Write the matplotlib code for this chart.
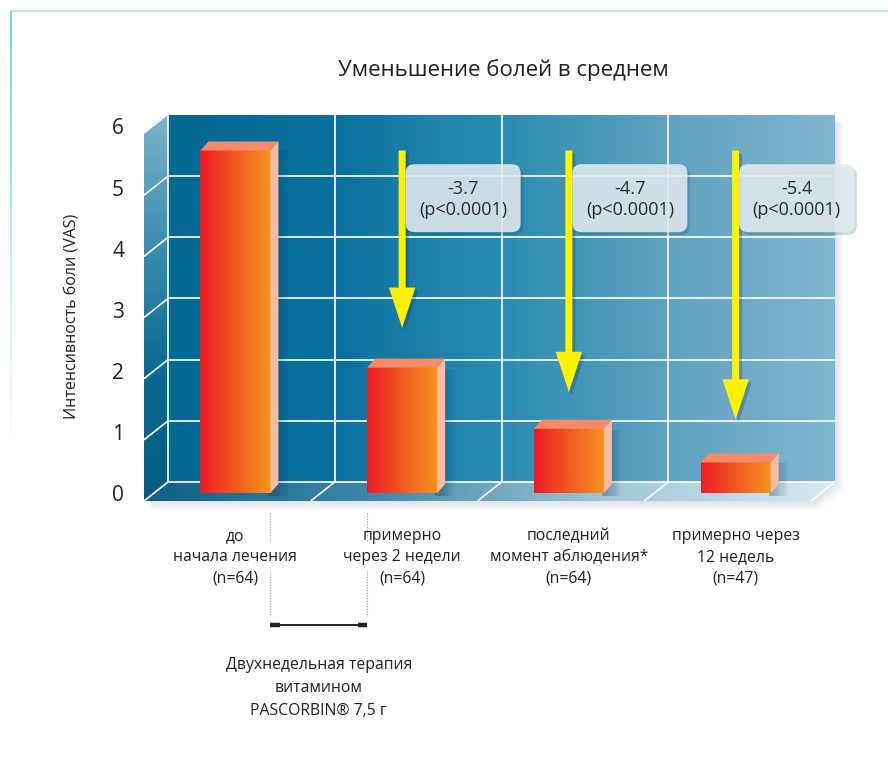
import matplotlib
matplotlib.use('Agg')
import matplotlib.pyplot as plt
import matplotlib.transforms as mtransforms
import matplotlib.patheffects as pe
from matplotlib.patches import Polygon, FancyBboxPatch, Rectangle
from matplotlib.colors import LinearSegmentedColormap
import numpy as np

plt.rcParams['font.family'] = ['Open Sans', 'DejaVu Sans']
plt.rcParams['font.weight'] = 500

# data
title = 'Уменьшение болей в среднем'
ylabel = 'Интенсивность боли (VAS)'
categories = ['до\nначала лечения\n(n=64)',
              'примерно\nчерез 2 недели\n(n=64)',
              'последний\nмомент аблюдения*\n(n=64)',
              'примерно через\n12 недель\n(n=47)']
pain = [5.6, 2.05, 1.05, 0.5]
changes = ['-3.7', '-4.7', '-5.4']
p_values = ['(p<0.0001)', '(p<0.0001)', '(p<0.0001)']
arrow_tips = [2.7, 1.65, 1.2]
yticks = [0, 1, 2, 3, 4, 5, 6]
therapy_note = 'Двухнедельная терапия\nвитамином\nPASCORBIN® 7,5 г'

W, H = 888, 762
fig = plt.figure(figsize=(W / 100, H / 100), dpi=100)
bg = fig.add_axes([0, 0, 1, 1])
bg.set_xlim(0, W)
bg.set_ylim(H, 0)
bg.axis('off')

ax = fig.add_axes([168 / W, 1 - 482 / H, 667 / W, 367 / H])
ax.set_xlim(-0.5, 3.5)
ax.set_ylim(0, 6)
ax.axis('off')

ident = mtransforms.IdentityTransform()


def shifted(dx, dy, base):
    # offset in image pixels (dy positive = down)
    return base + mtransforms.ScaledTranslation(dx / 100, -dy / 100, fig.dpi_scale_trans)


front = shifted(-16, 11, ax.transData)      # plane of the bar fronts
wallf = shifted(-24, 19, ax.transData)      # front edge of floor / side wall
blend = mtransforms.blended_transform_factory(front, bg.transData)


def to_bg(x, y, base=None):
    base = ax.transData if base is None else base
    return tuple(bg.transData.inverted().transform(base.transform((x, y))))


def gradient_fill(pts, colors, horizontal=True, z=0):
    pts = np.array(pts)
    x0, y0 = pts.min(axis=0)
    x1, y1 = pts.max(axis=0)
    cmap = LinearSegmentedColormap.from_list('g', colors)
    t = np.linspace(0, 1, 256)
    arr = t[None, :] if horizontal else t[:, None]
    poly = Polygon(pts, closed=True, transform=bg.transData, fc='none', ec='none')
    bg.add_patch(poly)
    bg.imshow(arr, cmap=cmap, extent=(x0, x1, y1, y0), origin='upper',
              aspect='auto', clip_path=poly, zorder=z, interpolation='bilinear')


# wall corners
TL, BL = to_bg(-0.5, 6), to_bg(-0.5, 0)
TR, BR = to_bg(3.5, 6), to_bg(3.5, 0)
FTL, FBL = to_bg(-0.5, 6, wallf), to_bg(-0.5, 0, wallf)
FBR = to_bg(3.5, 0, wallf)

# soft drop shadow of the whole box
sil = np.array([FTL, TL, TR, BR, FBR, FBL])
for k in range(1, 8):
    bg.add_patch(Polygon(sil + [k * 1.2, k * 1.2], fc='#6f7f9a', ec='none',
                         alpha=0.03, zorder=-1))

gradient_fill([TL, TR, BR, BL], ['#046891', '#0b72a0', '#2a8cb0', '#5fa2c0', '#80b6d0'])
gradient_fill([FTL, TL, BL, FBL], ['#7cb3cb', '#3c8db1', '#0a6a90', '#045c82'], horizontal=False)
gradient_fill([BL, BR, FBR, FBL], ['#0f5f85', '#3f88ab', '#9fc6d8', '#dbebf2'])

# grid lines
gl = dict(color='white', lw=1.2, zorder=1, solid_capstyle='butt')
for v in yticks[:-1]:
    a, b = to_bg(-0.5, v), to_bg(3.5, v)
    bg.plot([a[0], b[0]], [a[1], b[1]], **gl)
    c = to_bg(-0.5, v, wallf)
    bg.plot([c[0], a[0]], [c[1], a[1]], **gl)
for xb in [-0.5, 0.5, 1.5, 2.5]:
    a, b = to_bg(xb, 0), to_bg(xb, 6)
    bg.plot([a[0], b[0]], [a[1], b[1]], **gl)
for xb in [0.5, 1.5, 2.5, 3.5]:
    a, c = to_bg(xb, 0), to_bg(xb, 0, wallf)
    bg.plot([c[0], a[0]], [c[1], a[1]], **gl)

# bars
x = np.arange(len(pain))
bw = 0.42
bars = ax.bar(x, pain, width=bw, transform=front, clip_on=False,
              fc='none', ec='none', zorder=3)
bar_cmap = LinearSegmentedColormap.from_list('bar', ['#ed1c24', '#f15a24', '#f7941d'])
for xi, v, patch in zip(x, pain, bars):
    x0, x1 = xi - bw / 2, xi + bw / 2
    p0 = front.transform((x0, v))
    p1 = front.transform((x1, v))
    p1b = front.transform((x1, 0))
    # shadow on the wall
    for k in range(1, 8):
        ax.add_patch(Rectangle((p1b[0] - 2, p1b[1] - 3), 4 + 2.2 * k, p1[1] - p1b[1] + 2,
                               transform=ident, fc='#002a40', ec='none', alpha=0.045,
                               clip_on=False, zorder=2))
    im = ax.imshow(np.linspace(0, 1, 128)[None, :], cmap=bar_cmap,
                   extent=(x0, x1, 0, v), transform=front, aspect='auto',
                   clip_path=patch, zorder=3, interpolation='bilinear')
    im.set_clip_box(fig.bbox)
    d = np.array([8, 9])
    ax.add_patch(Polygon([p0, p1, p1 + d, p0 + d], transform=ident, fc='#f58b68',
                         ec='none', clip_on=False, zorder=4))
    ax.add_patch(Polygon([p1b, p1, p1 + d, p1b + d], transform=ident, fc='#f9bba1',
                         ec='none', clip_on=False, zorder=4))

# arrows and boxes
style = 'simple,head_length=2.9,head_width=1.9,tail_width=0.5'
box_y = 4.82
for xi, tip, chg, pv in zip(x[1:], arrow_tips, changes, p_values):
    ax.annotate('', xy=(xi, tip), xytext=(xi, pain[0]),
                xycoords=shifted(3, 3, front), textcoords=shifted(3, 3, front),
                arrowprops=dict(arrowstyle=style, mutation_scale=10, color='#06344a',
                                alpha=0.25, lw=0, shrinkA=0, shrinkB=0), zorder=5)
    ax.annotate('', xy=(xi, tip), xytext=(xi, pain[0]), xycoords=front, textcoords=front,
                arrowprops=dict(arrowstyle=style, mutation_scale=10, color='#fff200',
                                lw=0, shrinkA=0, shrinkB=0), zorder=6)
    c = front.transform((xi, box_y))
    box = FancyBboxPatch((c[0] + 3.5, c[1] - 34), 115, 68,
                         boxstyle='round,pad=0,rounding_size=9', transform=ident,
                         fc='#e4ecef', ec='none', alpha=0.88, clip_on=False, zorder=7)
    box.set_path_effects([pe.SimplePatchShadow(offset=(2, -2), shadow_rgbFace='#0a3a50',
                                               alpha=0.18), pe.Normal()])
    ax.add_patch(box)
    ax.text(xi, box_y, f'{chg}\n{pv}', transform=shifted(61, 1, front), ha='center',
            va='center', fontsize=13, color='#2b2b2b', linespacing=1.2, zorder=8)

# y tick labels
for v in yticks:
    ax.text(-0.5, v, str(v), transform=shifted(-50, 14, ax.transData), ha='center',
            va='center', fontsize=15, color='#231f20')
bg.text(72, 316, ylabel, rotation=90, ha='center', va='center', fontsize=11.5,
        color='#231f20')

# category labels
for xi, lab in zip(x, categories):
    ax.text(xi, 0, lab, transform=shifted(0, 64, front), ha='center', va='center',
            multialignment='center', fontsize=11.3, color='#231f20', linespacing=1.42)

# bracket for the two-week therapy
e1, e2 = x[0] + bw / 2, x[1] - bw / 2
for ys in [(513, 542), (571, 616)]:
    for e in (e1, e2):
        ax.plot([e, e], ys, transform=blend, color='#9a9a9a', lw=0.8,
                ls=(0, (1, 1.4)), clip_on=False)
ax.plot([e1, e2], [625, 625], transform=blend, color='#231f20', lw=1.4, clip_on=False,
        solid_capstyle='butt')
for a, b in [(e1, e1 + 0.055), (e2 - 0.055, e2)]:
    ax.plot([a, b], [625, 625], transform=blend, color='#231f20', lw=3.2, clip_on=False,
            solid_capstyle='butt')
ax.text((e1 + e2) / 2, 688, therapy_note, transform=blend, ha='center', va='center',
        multialignment='center', fontsize=11.3, color='#231f20', linespacing=1.6)

bg.text(503, 70, title, ha='center', va='center', fontsize=16, color='#231f20')

# frame lines
bg.plot([11, W], [11, 11], color='#b2e0ea', lw=1.2)
ys = np.linspace(11, H, 40)
for i in range(len(ys) - 1):
    bg.plot([11, 11], [ys[i], ys[i + 1]], color='#5cc3ea', lw=1.2,
            alpha=max(0.0, 1 - i / 22), solid_capstyle='butt')

bg.set_xlim(0, W)
bg.set_ylim(H, 0)
ax.set_xlim(-0.5, 3.5)
ax.set_ylim(0, 6)
fig.savefig('out.png', dpi=100)
